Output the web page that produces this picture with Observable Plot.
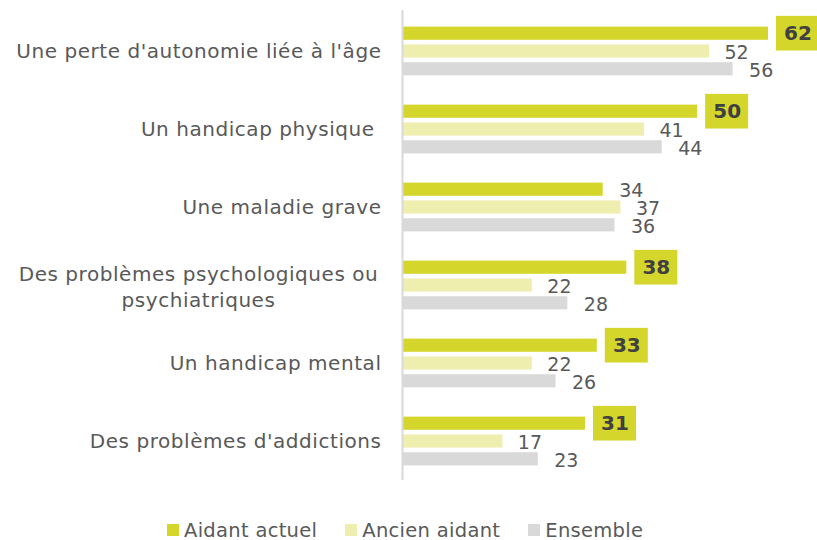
<!DOCTYPE html>
<html>
<head>
<meta charset="utf-8">
<script src="https://cdn.jsdelivr.net/npm/d3@7"></script>
<script src="https://cdn.jsdelivr.net/npm/@observablehq/plot@0.6"></script>
<style>
  body { margin: 0; background: #fff; font-family: "DejaVu Sans", sans-serif; }
  #legend { display: flex; align-items: center; margin-top: 28px; margin-left: 167px; height: 24px; font-size: 19.5px; letter-spacing: 0.3px; color: #595959; }
  #legend .item { display: flex; align-items: center; margin-right: 28px; }
  #legend .sw { width: 12px; height: 12px; margin-right: 5px; display: inline-block; }
</style>
</head>
<body>
<div id="chart"></div>
<div id="legend"></div>
<script>
const categories = [
  "Une perte d'autonomie liée à l'âge",
  "Un handicap physique ",
  "Une maladie grave",
  "Des problèmes psychologiques ou\npsychiatriques",
  "Un handicap mental",
  "Des problèmes d'addictions"
];
const seriesNames = ["Aidant actuel", "Ancien aidant", "Ensemble"];
const aidantActuel = [62, 50, 34, 38, 33, 31];
const ancienAidant = [52, 41, 37, 22, 22, 17];
const ensemble = [56, 44, 36, 28, 26, 23];
const highlighted = [true, true, false, true, true, true];
const colors = ["#d4d62c", "#eeeeae", "#d9d9d9"];

const rows = (vals) => categories.map((c, i) => ({category: c, value: vals[i], hl: highlighted[i]}));
const dAct = rows(aidantActuel);
const dAnc = rows(ancienAidant);
const dEns = rows(ensemble);
const multi = categories.filter(c => c.includes("\n"));
const single = categories.filter(c => !c.includes("\n"));

const textColor = "#595959";
const font = "DejaVu Sans";
const bandInset = (78.33 - 13.5) / 2;

const chart = Plot.plot({
  width: 817,
  height: 490,
  marginTop: 10,
  marginBottom: 10,
  marginLeft: 402,
  marginRight: 0,
  style: {fontFamily: font, background: "white"},
  x: {domain: [0, 62], range: [402, 768], axis: null},
  y: {domain: categories, range: [11, 481], padding: 0, axis: null},
  marks: [
    Plot.barX(dAct, {x: "value", y: "category", fill: colors[0], dy: -17.8, insetTop: bandInset, insetBottom: bandInset}),
    Plot.barX(dAnc, {x: "value", y: "category", fill: colors[1], insetTop: bandInset, insetBottom: bandInset}),
    Plot.barX(dEns, {x: "value", y: "category", fill: colors[2], dy: 17.8, insetTop: bandInset, insetBottom: bandInset}),
    Plot.ruleX([0], {stroke: "#d9d9d9", strokeWidth: 2}),
    // highlighted boxes
    Plot.barX(dAct.filter(d => d.hl), {x1: "value", x2: "value", y: "category", fill: colors[0], dy: -17.8,
      insetLeft: 8, insetRight: -51, insetTop: (78.33 - 35) / 2, insetBottom: (78.33 - 35) / 2}),
    Plot.text(dAct.filter(d => d.hl), {x: "value", y: "category", text: d => String(d.value), dy: -17.8, dx: 29.5,
      textAnchor: "middle", fontWeight: "bold", fontSize: 20, fill: "#404040"}),
    Plot.text(dAct.filter(d => !d.hl), {x: "value", y: "category", text: d => String(d.value), dy: -17, dx: 16,
      textAnchor: "start", fontSize: 19, fill: textColor}),
    Plot.text(dAnc, {x: "value", y: "category", text: d => String(d.value), dy: 1, dx: 15,
      textAnchor: "start", fontSize: 19, fill: textColor}),
    Plot.text(dEns, {x: "value", y: "category", text: d => String(d.value), dy: 19, dx: 16,
      textAnchor: "start", fontSize: 19, fill: textColor}),
    // category labels
    Plot.text(single, {y: d => d, text: d => d, frameAnchor: "left", dx: -21, textAnchor: "end", fontSize: 20, fill: textColor}),
    Plot.text(multi, {y: d => d, text: d => d, frameAnchor: "left", dx: -204, textAnchor: "middle", lineHeight: 1.3, fontSize: 20, fill: textColor})
  ]
});
// wider tracking on the category labels, closer to the reference typeface
const textGroups = chart.querySelectorAll('g[aria-label="text"]');
[textGroups[textGroups.length - 1], textGroups[textGroups.length - 2]].forEach(g => g.setAttribute("letter-spacing", "0.55"));
document.getElementById("chart").appendChild(chart);

const legend = document.getElementById("legend");
seriesNames.forEach((s, i) => {
  const item = document.createElement("div");
  item.className = "item";
  const sw = document.createElement("span");
  sw.className = "sw";
  sw.style.background = colors[i];
  item.appendChild(sw);
  item.appendChild(document.createTextNode(s));
  legend.appendChild(item);
});
</script>
</body>
</html>
